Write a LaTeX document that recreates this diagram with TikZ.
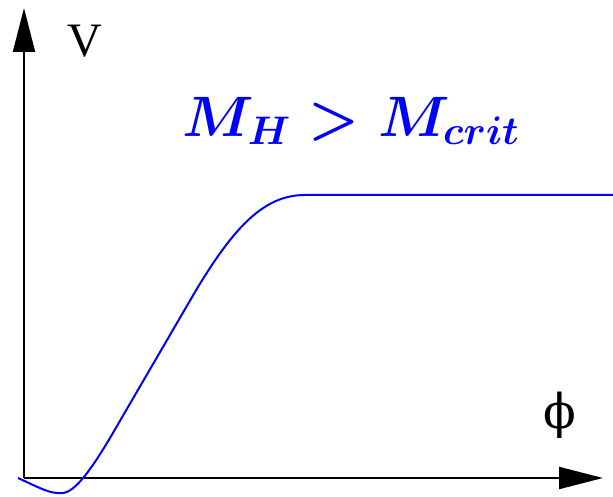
\RequirePackage{fix-cm}
\documentclass[tikz,border=0pt]{standalone}
\usepackage{amsmath, amssymb}
\usepackage{fontspec}
\setmainfont{Liberation Serif}
\newfontfamily\phifont{DejaVu Serif}
\usepackage{tikz}
\usetikzlibrary{arrows.meta}
\usepackage{xcolor}

\tikzset{
  axis/.style={line width=2pt, -{Triangle[length=44pt,width=22pt]}},
  pot/.style={blue, line width=2pt},
  axlabel/.style={inner sep=0pt, font=\fontsize{48}{50}\selectfont},
  condlabel/.style={text=blue, inner sep=0pt, font=\fontsize{57}{60}\selectfont\boldmath}
}

\begin{document}
\begin{tikzpicture}[x=1pt, y=-1pt]
  \useasboundingbox (0,0) rectangle (613,497);
  \coordinate (O) at (24,478);
  \coordinate (ytip) at (24,8);
  \coordinate (xtip) at (603,478);
  \draw[axis] (O) -- (ytip);
  \draw[axis] (O) -- (xtip);
  \node[axlabel] (vlab) at (85,41) {V};
  \node[axlabel] (philab) at (560,415) {\phifont ϕ};
  % potential curve
  \draw[pot] (18,478) .. controls (40,488) and (50,494) .. (62,493) .. controls (75,493) and (92,468) .. (110,438) -- (195,292) .. controls (235,225) and (265,195) .. (305,195) -- (613,195);
  \node[condlabel] (cond) at (351,121) {$M_H > M_{crit}$};
\end{tikzpicture}
\end{document}
